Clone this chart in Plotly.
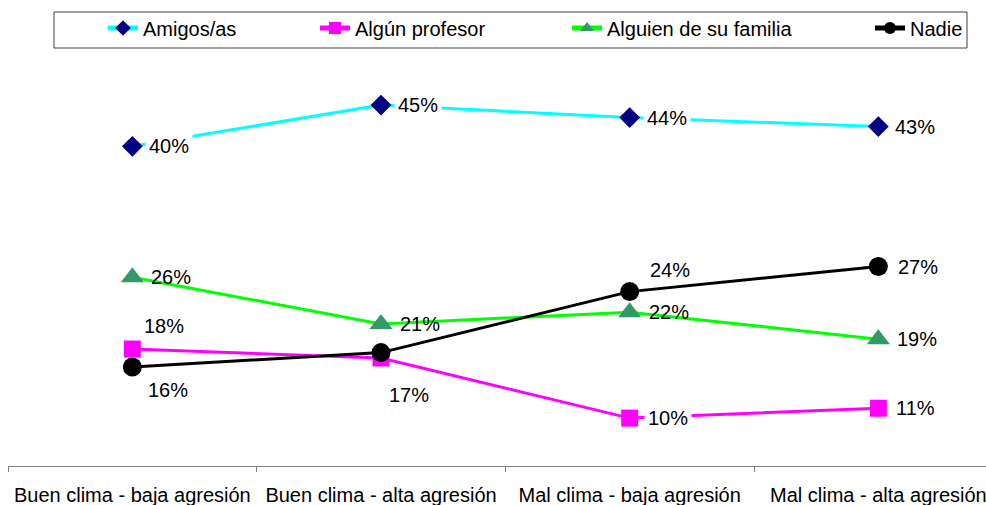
import plotly.graph_objects as go

# Categories (school climate x aggression level)
categories = [
    "Buen clima - baja agresión",
    "Buen clima - alta agresión",
    "Mal clima - baja agresión",
    "Mal clima - alta agresión",
]

# Percentage of students who would turn to each source of help
amigos = [40.4, 45.0, 43.6, 42.6]
profesor = [17.8, 16.8, 10.1, 11.2]
familia = [25.8, 20.6, 21.9, 18.9]
nadie = [15.8, 17.4, 24.2, 27.0]

series_names = ["Amigos/as", "Algún profesor", "Alguien de su familia", "Nadie"]

FONT = "Liberation Sans, Arial, sans-serif"
W, H = 986, 505
M_L, M_R, M_T, M_B = 8, 0, 60, 39
plot_w = W - M_L - M_R
plot_h = H - M_T - M_B

# per-point label offsets in px (dx, dy); None = no label drawn
styles = [
    dict(line="#00FFFF", marker="#000080", symbol="diamond", size=16,
         offsets=[(37, 0), (37, 0), (37, 0), (37, 0)], bg="white"),
    dict(line="#FF00FF", marker="#FF00FF", symbol="square", size=17,
         offsets=[(32, 23), (28, -37), (38, 0), (37, 0)], bg="white"),
    dict(line="#00FF00", marker="#339966", symbol="triangle-up", size=20,
         offsets=[(39, 0), (39, 0), (39, 0), (39, 0)], bg="rgba(0,0,0,0)"),
    dict(line="#000000", marker="#000000", symbol="circle", size=19,
         offsets=[(36, -23), None, (40, 22), (40, 0)], bg="rgba(0,0,0,0)"),
]
data = [amigos, profesor, familia, nadie]

# legend text start positions (px) for the four entries
legend_px = [143, 355, 607, 910]
legend_names = ["legend", "legend2", "legend3", "legend4"]

xs = list(range(len(categories)))
fig = go.Figure()
annotations = []
for i, (name, vals, st) in enumerate(zip(series_names, data, styles)):
    fig.add_trace(go.Scatter(
        x=xs, y=vals, name=name, mode="lines+markers",
        line=dict(color=st["line"], width=3),
        marker=dict(symbol=st["symbol"], size=st["size"], color=st["marker"],
                    line=dict(width=0)),
        legend=legend_names[i],
        hoverinfo="skip",
    ))
    for xi, v, off in zip(xs, vals, st["offsets"]):
        if off is None:
            continue
        dx, dy = off
        annotations.append(dict(
            x=xi, y=v, xref="x", yref="y", text=f"{v:.0f}%",
            showarrow=False, xanchor="center", yanchor="middle",
            xshift=dx, yshift=dy, bgcolor=st["bg"], borderpad=3,
            font=dict(family=FONT, size=20, color="black"),
        ))

legend_y = (H - M_B - 28) / plot_h
legend_layouts = {}
for lname, px in zip(legend_names, legend_px):
    legend_layouts[lname] = dict(
        x=(px - 40 - M_L) / plot_w, y=legend_y, xanchor="left", yanchor="middle",
        orientation="h", bgcolor="rgba(0,0,0,0)", borderwidth=0,
        font=dict(family=FONT, size=20, color="black"),
        itemsizing="constant",
    )

# frame around the legend entries
frame = dict(
    type="rect", xref="paper", yref="paper",
    x0=(54 - M_L) / plot_w, x1=(967 - M_L) / plot_w,
    y0=(H - M_B - 48) / plot_h, y1=(H - M_B - 12) / plot_h,
    line=dict(color="#404040", width=1), fillcolor="rgba(0,0,0,0)",
)

bounds = [i - 0.5 for i in range(len(categories) + 1)]
fig.update_layout(
    width=W, height=H,
    margin=dict(l=M_L, r=M_R, t=M_T, b=M_B),
    paper_bgcolor="white", plot_bgcolor="white",
    font=dict(family=FONT, size=20, color="black"),
    annotations=annotations,
    shapes=[frame],
    showlegend=True,
    **legend_layouts,
    xaxis=dict(
        range=[-0.5, -0.5 + plot_w / 248.67],
        tickmode="array", tickvals=xs, ticktext=categories,
        ticks="outside", ticklen=11, tickcolor="rgba(0,0,0,0)",
        ticklabeloverflow="allow",
        showline=True, linecolor="#808080", linewidth=1,
        showgrid=False, zeroline=False,
        tickfont=dict(family=FONT, size=20, color="black"),
        minor=dict(tickmode="array", tickvals=bounds, ticks="outside",
                   ticklen=5, tickcolor="#808080", tickwidth=1, showgrid=False),
    ),
    yaxis=dict(range=[4.76, 50.02], visible=False, showgrid=False, zeroline=False),
)

fig.write_html("out.html")
